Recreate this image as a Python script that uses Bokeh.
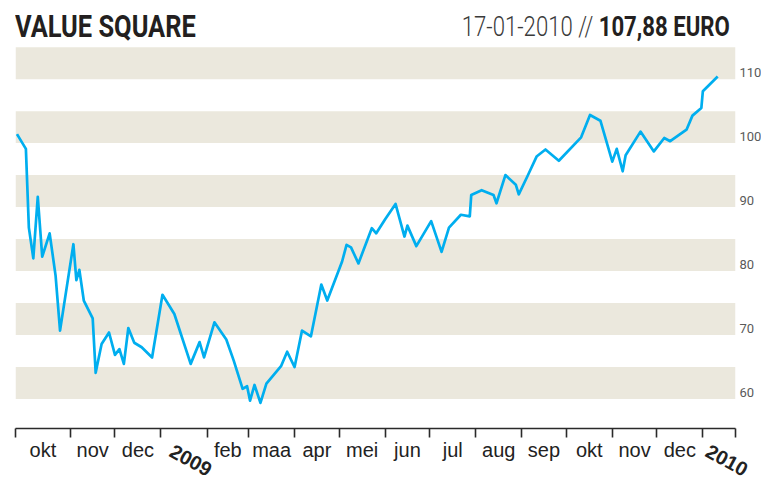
import pandas as pd
from bokeh.plotting import figure
from bokeh.models import (Range1d, BoxAnnotation, LinearAxis, FixedTicker, Div,
                          CustomJSTickFormatter)
from bokeh.layouts import column
from bokeh.embed import file_html
from bokeh.resources import INLINE

# ---- data ----
dates = ["2008-09-26", "2008-10-02", "2008-10-04", "2008-10-07", "2008-10-10", "2008-10-13",
         "2008-10-18", "2008-10-22", "2008-10-25", "2008-11-03", "2008-11-05", "2008-11-07",
         "2008-11-10", "2008-11-16", "2008-11-18", "2008-11-22", "2008-11-27", "2008-12-01",
         "2008-12-04", "2008-12-07", "2008-12-10", "2008-12-14", "2008-12-19", "2008-12-26",
         "2009-01-02", "2009-01-10", "2009-01-21", "2009-01-27", "2009-01-30", "2009-02-06",
         "2009-02-14", "2009-02-19", "2009-02-25", "2009-02-28", "2009-03-02", "2009-03-05",
         "2009-03-09", "2009-03-13", "2009-03-23", "2009-03-27", "2009-04-01", "2009-04-06",
         "2009-04-12", "2009-04-19", "2009-04-23", "2009-05-03", "2009-05-06", "2009-05-09",
         "2009-05-14", "2009-05-23", "2009-05-26", "2009-06-01", "2009-06-08", "2009-06-14",
         "2009-06-16", "2009-06-22", "2009-07-02", "2009-07-09", "2009-07-14", "2009-07-22",
         "2009-07-28", "2009-07-29", "2009-08-05", "2009-08-13", "2009-08-15", "2009-08-21",
         "2009-08-28", "2009-08-30", "2009-09-05", "2009-09-11", "2009-09-17", "2009-09-26",
         "2009-10-11", "2009-10-17", "2009-10-24", "2009-11-01", "2009-11-04", "2009-11-08",
         "2009-11-10", "2009-11-20", "2009-11-29", "2009-12-06", "2009-12-10", "2009-12-21",
         "2009-12-25", "2009-12-31", "2010-01-01", "2010-01-11"]
prices = [100.4, 98.1, 85.8, 81.0, 90.6, 81.25,
          84.9, 78.3, 69.7, 83.2, 77.6, 79.2,
          74.4, 71.6, 63.1, 67.6, 69.4, 65.9,
          66.8, 64.5, 70.1, 67.8, 67.1, 65.5,
          75.3, 72.3, 64.5, 67.9, 65.5, 71.0,
          68.3, 65.0, 60.6, 61.0, 58.75, 61.2,
          58.4, 61.4, 64.2, 66.4, 64.0, 69.7,
          68.8, 76.9, 74.4, 80.5, 83.1, 82.7,
          80.2, 85.7, 84.9, 87.1, 89.5, 84.4,
          86.1, 82.9, 86.8, 82.0, 85.8, 87.8,
          87.55, 90.9, 91.65, 90.9, 89.6, 94.0,
          92.5, 91.0, 93.9, 96.9, 98.0, 96.25,
          99.9, 103.4, 102.5, 96.1, 98.1, 94.6,
          97.1, 100.8, 97.7, 99.8, 99.3, 101.1,
          103.3, 104.5, 107.1, 109.4]

month_starts = ["2008-11-01", "2008-12-01", "2009-01-01", "2009-02-01", "2009-03-01",
                "2009-04-01", "2009-05-01", "2009-06-01", "2009-07-01", "2009-08-01",
                "2009-09-01", "2009-10-01", "2009-11-01", "2009-12-01", "2010-01-01"]
month_names = ["okt", "nov", "dec", "", "feb", "maa", "apr", "mei", "jun", "jul",
               "aug", "sep", "okt", "nov", "dec", ""]
year_labels = ["2009", "2010"]
year_anchor = ["2009-01-08", "2010-01-04"]   # where the slanted year text starts
y_ticks = [60, 70, 80, 90, 100, 110]

title_left = "VALUE SQUARE"
title_date = "17-01-2010 //"
title_value = "107,88 EURO"

# ---- helpers ----
def ms(d):
    return float((pd.Timestamp(d) - pd.Timestamp("1970-01-01")).total_seconds() * 1000.0)

x_start = ms("2008-09-25")
x_end = ms("2010-01-23")
y_lo, y_hi = 54.4, 114.1
FW, FH = 720, 382

bounds = [x_start] + [ms(d) for d in month_starts] + [x_end]
mids = [(bounds[i] + bounds[i + 1]) / 2.0 for i in range(len(bounds) - 1)]
mid_ticks = [m for m, n in zip(mids, month_names) if n]
overrides = {m: n for m, n in zip(mids, month_names) if n}
year_ticks = [ms(d) for d in year_anchor]
year_over = {t: s for t, s in zip(year_ticks, year_labels)}

BEIGE = "#EBE8DD"
BLUE = "#00AEEF"
INK = "#231F20"

header = Div(
    text=(
        '<div style="position:relative;width:761px;height:46px;overflow:hidden;">'
        '<span style="position:absolute;left:15px;top:11px;font-family:Roboto;font-weight:bold;'
        'font-size:31px;line-height:31px;color:%s;white-space:nowrap;transform:scaleX(0.82);'
        'transform-origin:left top;">%s</span>'
        '<span style="position:absolute;right:31px;top:14px;font-family:Roboto;font-size:27px;'
        'line-height:27px;color:%s;white-space:nowrap;transform:scaleX(0.82);'
        'transform-origin:right top;"><span style="font-weight:300;color:#3a3a3a;">%s </span>'
        '<span style="font-weight:bold;">%s</span></span>'
        '</div>' % (INK, title_left, INK, title_date, title_value)
    ),
    width=761, height=46, styles={"margin": "0", "padding": "0"})

p = figure(frame_width=FW, frame_height=FH,
           x_range=Range1d(x_start, x_end), y_range=Range1d(y_lo, y_hi),
           x_axis_type=None, y_axis_type=None,
           output_backend="svg", toolbar_location=None,
           min_border_left=15, min_border_top=0, min_border_right=26, min_border_bottom=54,
           outline_line_color=None, background_fill_color="white", border_fill_color="white")

for v in y_ticks:
    p.add_layout(BoxAnnotation(bottom=v - 1, top=v + 4, fill_color=BEIGE, fill_alpha=1.0,
                               line_color=None, level="underlay"))

p.line(x=pd.to_datetime(dates), y=prices, line_color=BLUE, line_width=2.7, line_join="round")

# axis with month-boundary ticks
axA = LinearAxis(ticker=FixedTicker(ticks=bounds),
                 formatter=CustomJSTickFormatter(code="return ''"),
                 axis_line_color="#2a2a2a", axis_line_width=1.6,
                 major_tick_line_color="#2a2a2a", major_tick_line_width=1.6,
                 major_tick_in=0, major_tick_out=9, minor_tick_line_color=None,
                 major_label_text_font_size="1px", major_label_standoff=0)
p.add_layout(axA, "below")

# axis with slanted year labels
axC = LinearAxis(ticker=FixedTicker(ticks=year_ticks), major_label_overrides=year_over,
                 axis_line_color=None, major_tick_line_color=None, minor_tick_line_color=None,
                 major_tick_in=0, major_tick_out=0, major_label_standoff=12,
                 major_label_orientation=-0.5,
                 major_label_text_font="Liberation Sans", major_label_text_font_style="bold",
                 major_label_text_font_size="20px", major_label_text_color="#222222")
p.add_layout(axC, "below")

# axis with month names centred between ticks (pulled up beside the years)
axB = LinearAxis(ticker=FixedTicker(ticks=mid_ticks), major_label_overrides=overrides,
                 axis_line_color=None, major_tick_line_color=None, minor_tick_line_color=None,
                 major_tick_in=0, major_tick_out=0, major_label_standoff=-48,
                 major_label_text_font="Liberation Sans", major_label_text_font_size="20px",
                 major_label_text_color="#222222")
p.add_layout(axB, "below")

axR = LinearAxis(ticker=FixedTicker(ticks=y_ticks),
                 axis_line_color=None, major_tick_line_color=None, minor_tick_line_color=None,
                 major_tick_in=0, major_tick_out=0, major_label_standoff=4,
                 major_label_text_font="Roboto", major_label_text_font_size="13px",
                 major_label_text_color="#5a5a5a")
p.add_layout(axR, "right")

layout = column(header, p, spacing=0)
open("out.html", "w").write(file_html(layout, INLINE))
